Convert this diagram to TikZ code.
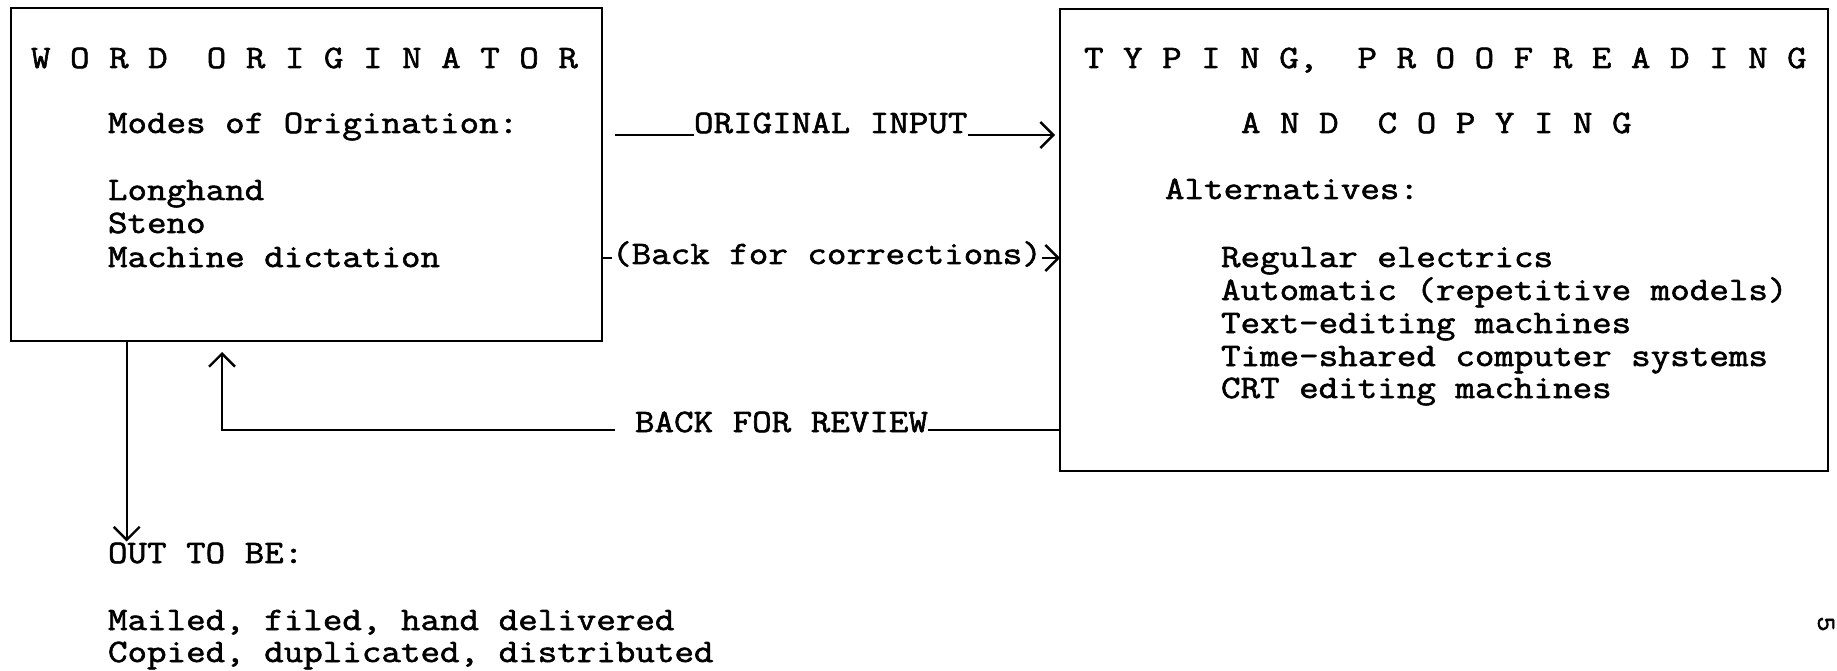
\documentclass[tikz,border=0pt]{standalone}
\usepackage{fontspec}
\newfontfamily\tw[FakeStretch=1.16, FakeBold=1.8]{Latin Modern Mono}
\usetikzlibrary{arrows.meta}
\tikzset{
  txt/.style={font=\tw\fontsize{32.7}{33}\selectfont, inner sep=0pt, outer sep=0pt, text=black},
  box/.style={draw, line width=2pt, inner sep=0pt, outer sep=0pt, anchor=north west},
  conn/.style={line width=1.8pt},
  tip/.style={conn, -{Straight Barb[length=13pt,width=26pt,line width=2.4pt]}},
}
\begin{document}
\begin{tikzpicture}[x=1pt,y=-1pt]
\useasboundingbox[fill=white] (0,0) rectangle (1837,671);
% boxes
\node[box, minimum width=591pt, minimum height=333pt] (lb) at (11,8) {};
\node[box, minimum width=768pt, minimum height=462pt] (rb) at (1060,9) {};
% left box text
\node[txt, anchor=base west] (t1) at (31,68) {W O R D~ O R I G I N A T O R};
\node[txt, anchor=base west] (t2) at (108,133) {Modes of Origination:};
\node[txt, anchor=base west] (m1) at (108,200) {Longhand};
\node[txt, anchor=base west] (m2) at (108,233) {Steno};
\node[txt, anchor=base west] (m3) at (108,267) {Machine dictation};
% right box text
\node[txt, anchor=base west] (r1) at (1084,68) {T Y P I N G,~ P R O O F R E A D I N G};
\node[txt, anchor=base west] (r2) at (1241,133) {A N D~ C O P Y I N G};
\node[txt, anchor=base west] (r3) at (1165,199) {Alternatives:};
\node[txt, anchor=base west] (a1) at (1221,267) {Regular electrics};
\node[txt, anchor=base west] (a2) at (1221,300) {Automatic (repetitive models)};
\node[txt, anchor=base west] (a3) at (1221,333) {Text-editing machines};
\node[txt, anchor=base west] (a4) at (1221,366) {Time-shared computer systems};
\node[txt, anchor=base west] (a5) at (1221,398) {CRT editing machines};
% ORIGINAL INPUT
\node[txt, anchor=base west] (oi) at (694,133) {ORIGINAL INPUT};
\coordinate (oiy) at (0,135);
\draw[conn, shorten <=13pt] (lb.east |- oiy) -- (oi.west |- oiy);
\draw[tip, shorten >=5pt] (oi.east |- oiy) -- (rb.west |- oiy);
% Back for corrections
\coordinate (bcy) at (0,258);
\draw[tip] (lb.east |- bcy) -- (rb.west |- bcy);
\node[txt, anchor=base, fill=white] (bc) at (827,264) {(Back for corrections)};
% BACK FOR REVIEW
\node[txt, anchor=base west] (br) at (635,432) {BACK FOR REVIEW};
\coordinate (bry) at (0,430);
\coordinate (corner) at (222,430);
\draw[conn] (rb.west |- bry) -- (br.east |- bry);
\draw[tip, shorten <=20pt, shorten >=11pt] (br.west |- bry) -- (corner) -- (corner |- lb.south);
% OUT TO BE
\node[txt, anchor=base west] (o1) at (108,563) {OUT TO BE:};
\node[txt, anchor=base west] (o2) at (108,630) {Mailed, filed, hand delivered};
\node[txt, anchor=base west] (o3) at (108,662) {Copied, duplicated, distributed};
\coordinate (dn) at (126.7,541.5);
\draw[tip] (dn |- lb.south) -- (dn);
% page mark
\node[txt, rotate=-90, font=\tw\fontsize{26}{28}\selectfont] (pg) at (1826,624) {5};
\end{tikzpicture}
\end{document}
